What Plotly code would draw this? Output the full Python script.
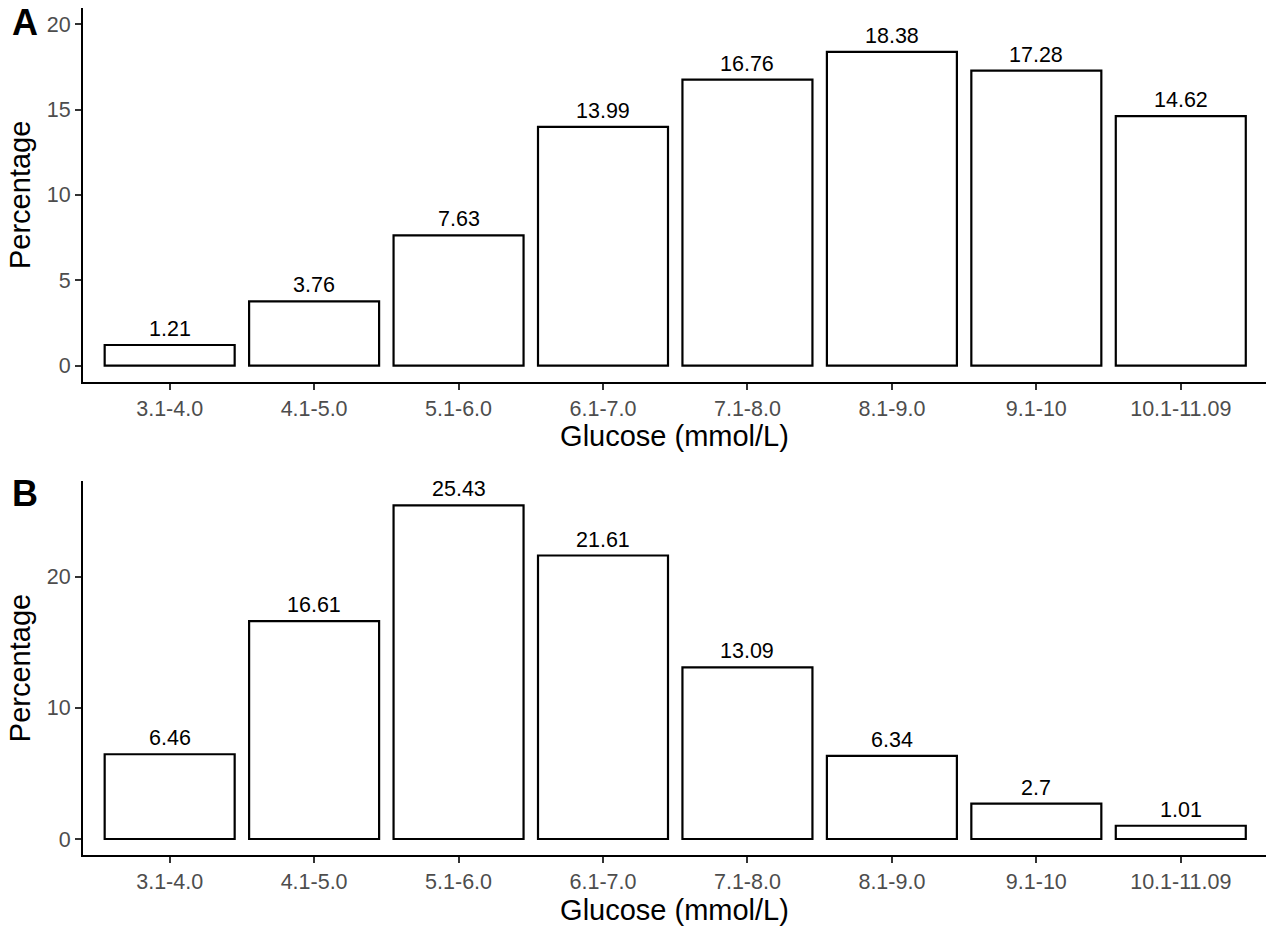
import plotly.graph_objects as go

categories = ["3.1-4.0", "4.1-5.0", "5.1-6.0", "6.1-7.0", "7.1-8.0", "8.1-9.0", "9.1-10", "10.1-11.09"]
values_a = [1.21, 3.76, 7.63, 13.99, 16.76, 18.38, 17.28, 14.62]
values_b = [6.46, 16.61, 25.43, 21.61, 13.09, 6.34, 2.7, 1.01]
panel_labels = ["A", "B"]
x_title = "Glucose (mmol/L)"
y_title = "Percentage"

W, H = 1266, 929
FONT = "Liberation Sans, Arial, sans-serif"

fig = go.Figure()
for i, vals in enumerate([values_a, values_b]):
    xa = "x" if i == 0 else "x2"
    ya = "y" if i == 0 else "y2"
    fig.add_trace(go.Bar(
        x=categories, y=vals, xaxis=xa, yaxis=ya,
        width=0.9,
        marker=dict(color="white", line=dict(color="black", width=2.2)),
        showlegend=False, hoverinfo="x+y",
    ))
    for c, v in zip(categories, vals):
        fig.add_annotation(
            x=c, y=v, xref=xa, yref=ya, text=str(v), showarrow=False,
            yanchor="bottom", yshift=2,
            font=dict(family=FONT, size=21.5, color="black"),
        )

def px2paper(y):
    return 1 - y / H

axis_common = dict(
    showline=True, linecolor="black", linewidth=2,
    ticks="outside", ticklen=6, tickwidth=2, tickcolor="#333333",
    tickfont=dict(family=FONT, size=21.5, color="#4D4D4D"),
    showgrid=False, zeroline=False,
    title_font=dict(family=FONT, size=29, color="black"),
)

fig.update_layout(
    width=W, height=H,
    margin=dict(l=83, r=0, t=0, b=0),
    plot_bgcolor="white", paper_bgcolor="white",
    bargap=0.1,
    xaxis=dict(**axis_common, anchor="y", domain=[0, 1], range=[-0.6, 7.59],
               type="category", title=dict(text=x_title, standoff=5)),
    xaxis2=dict(**axis_common, anchor="y2", domain=[0, 1], range=[-0.6, 7.59],
                type="category", title=dict(text=x_title, standoff=5)),
    yaxis=dict(**axis_common, anchor="x", domain=[px2paper(381.7), px2paper(8)],
               range=[-0.94, 20.95], tickvals=[0, 5, 10, 15, 20],
               title=dict(text=y_title, standoff=8)),
    yaxis2=dict(**axis_common, anchor="x2", domain=[px2paper(855), px2paper(481)],
                range=[-1.22, 27.29], tickvals=[0, 10, 20],
                title=dict(text=y_title, standoff=8)),
)

for lab, ytop in zip(panel_labels, [0, 471]):
    fig.add_annotation(
        x=-83 / (W - 83) + 10 / (W - 83), xref="paper", xanchor="left",
        y=px2paper(ytop), yref="paper", yanchor="top",
        text="<b>%s</b>" % lab, showarrow=False,
        font=dict(family=FONT, size=36, color="black"),
    )

fig.write_html("out.html")
